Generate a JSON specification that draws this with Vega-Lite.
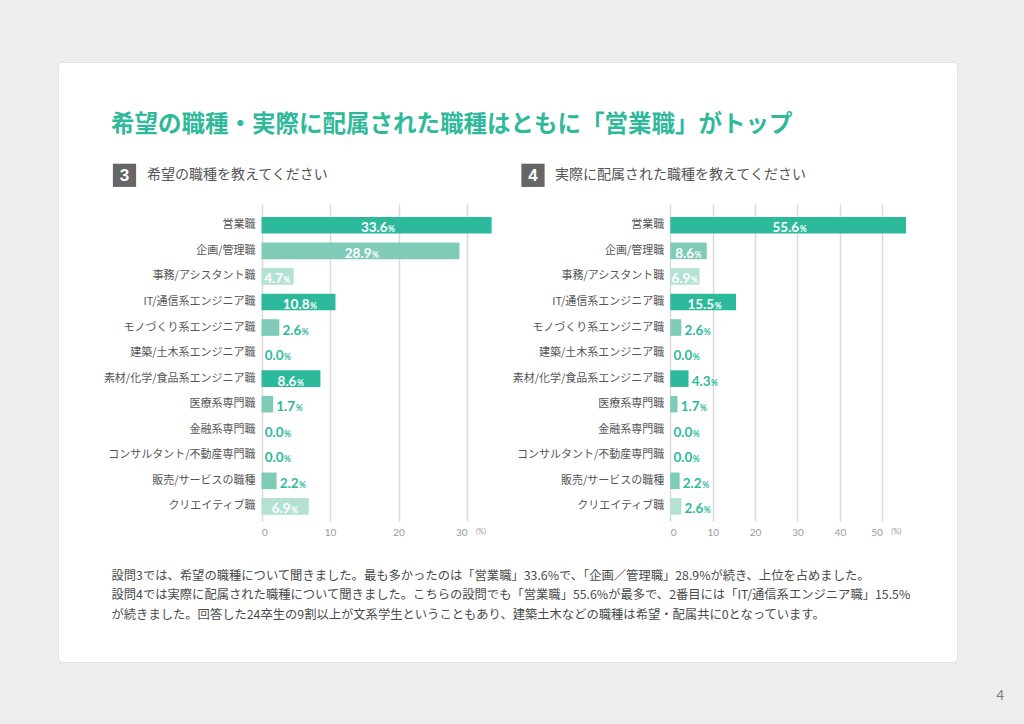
{
  "$schema": "https://vega.github.io/schema/vega-lite/v6.json",
  "width": 899,
  "height": 600,
  "autosize": "none",
  "padding": {"left": 58, "top": 62, "right": 67, "bottom": 62},
  "background": "#ededed",
  "config": {
    "view": {"fill": "white", "stroke": "#e2e2e2", "cornerRadius": 4},
    "font": "Noto Sans CJK JP"
  },
  "title": {
    "text": "希望の職種・実際に配属された職種はともに「営業職」がトップ",
    "anchor": "start", "frame": "group", "orient": "top", "offset": 0,
    "dx": 53, "dy": 86, "baseline": "middle",
    "font": "Noto Sans CJK JP", "fontSize": 23.5, "fontWeight": "bold", "color": "#2fb99b"
  },
  "data": {
    "values": [
      {"cat": "営業職", "hope": 33.6, "actual": 55.6},
      {"cat": "企画/管理職", "hope": 28.9, "actual": 8.6},
      {"cat": "事務/アシスタント職", "hope": 4.7, "actual": 6.9},
      {"cat": "IT/通信系エンジニア職", "hope": 10.8, "actual": 15.5},
      {"cat": "モノづくり系エンジニア職", "hope": 2.6, "actual": 2.6},
      {"cat": "建築/土木系エンジニア職", "hope": 0.0, "actual": 0.0},
      {"cat": "素材/化学/食品系エンジニア職", "hope": 8.6, "actual": 4.3},
      {"cat": "医療系専門職", "hope": 1.7, "actual": 1.7},
      {"cat": "金融系専門職", "hope": 0.0, "actual": 0.0},
      {"cat": "コンサルタント/不動産専門職", "hope": 0.0, "actual": 0.0},
      {"cat": "販売/サービスの職種", "hope": 2.2, "actual": 2.2},
      {"cat": "クリエイティブ職", "hope": 6.9, "actual": 2.6}
    ]
  },
  "resolve": {"scale": {"x": "independent", "y": "independent"}, "axis": {"x": "independent", "y": "independent"}},
  "layer": [
    {
      "mark": {"type": "bar"},
      "encoding": {
        "y": {"field": "cat", "type": "nominal",
          "scale": {"type": "band", "domain": ["営業職","企画/管理職","事務/アシスタント職","IT/通信系エンジニア職","モノづくり系エンジニア職","建築/土木系エンジニア職","素材/化学/食品系エンジニア職","医療系専門職","金融系専門職","コンサルタント/不動産専門職","販売/サービスの職種","クリエイティブ職"], "range": [141, 458], "paddingInner": 0.35, "paddingOuter": 0.378, "align": 0.725},
          "axis": {"orient": "left", "offset": -203.5, "domain": false, "ticks": false, "tickSize": 0, "labelPadding": 6.5, "labelFont": "Noto Sans CJK JP", "labelFontSize": 11, "labelColor": "#555555", "labelLimit": 260, "title": null, "grid": false}},
        "x": {"field": "hope", "type": "quantitative",
          "scale": {"domain": [0, 30], "range": [203.5, 409]},
          "axis": {"orient": "bottom", "offset": -142, "values": [0, 10, 20, 30], "grid": true, "gridColor": "#dadada", "gridWidth": 1.5, "domain": false, "ticks": false, "tickSize": 0, "labelPadding": 7, "labelFont": "Lato", "labelFontSize": 10, "labelColor": "#9a9a9a",
            "title": ["設問3では、希望の職種について聞きました。最も多かったのは「営業職」33.6%で、「企画／管理職」28.9%が続き、上位を占めました。", "設問4では実際に配属された職種について聞きました。こちらの設問でも「営業職」55.6%が最多で、2番目には「IT/通信系エンジニア職」15.5%", "が続きました。回答した24卒生の9割以上が文系学生ということもあり、建築土木などの職種は希望・配属共に0となっています。"],
            "titleX": 53, "titleY": 49, "titleAlign": "left", "titleBaseline": "top", "titleAngle": 0, "titleFont": "Noto Sans CJK JP", "titleFontSize": 12.3, "titleFontWeight": "normal", "titleColor": "#4a4a4a", "titleLineHeight": 19.5}},
        "color": {"field": "cat", "type": "nominal",
          "scale": {"domain": ["営業職","企画/管理職","事務/アシスタント職","IT/通信系エンジニア職","モノづくり系エンジニア職","建築/土木系エンジニア職","素材/化学/食品系エンジニア職","医療系専門職","金融系専門職","コンサルタント/不動産専門職","販売/サービスの職種","クリエイティブ職"], "range": ["#2dba9c","#7fcbb8","#b3e2d4","#2dba9c","#7fcbb8","#7fcbb8","#2dba9c","#7fcbb8","#7fcbb8","#7fcbb8","#7fcbb8","#b3e2d4"]},
          "legend": null}
      }
    },
    {
      "transform": [{"filter": "datum.hope >= 10"}],
      "mark": {"type": "text", "align": "right", "baseline": "alphabetic", "dx": 11, "dy": 7, "font": "Lato", "fontSize": 13.5, "fontWeight": "bold", "color": "white"},
      "encoding": {
        "x": {"field": "hope", "type": "quantitative", "scale": {"domain": [0, 60], "range": [203.5, 409]}, "axis": null},
        "y": {"field": "cat", "type": "nominal", "scale": {"type": "band", "domain": ["営業職","企画/管理職","事務/アシスタント職","IT/通信系エンジニア職","モノづくり系エンジニア職","建築/土木系エンジニア職","素材/化学/食品系エンジニア職","医療系専門職","金融系専門職","コンサルタント/不動産専門職","販売/サービスの職種","クリエイティブ職"], "range": [141, 458], "paddingInner": 0.35, "paddingOuter": 0.378, "align": 0.725}, "axis": null},
        "text": {"field": "hope", "type": "quantitative", "format": ".1f"}
      }
    },
    {
      "transform": [{"filter": "datum.hope >= 10"}],
      "mark": {"type": "text", "align": "left", "baseline": "alphabetic", "dx": 11.5, "dy": 7, "font": "Lato", "fontSize": 8.5, "fontWeight": "bold", "color": "white"},
      "encoding": {
        "x": {"field": "hope", "type": "quantitative", "scale": {"domain": [0, 60], "range": [203.5, 409]}, "axis": null},
        "y": {"field": "cat", "type": "nominal", "scale": {"type": "band", "domain": ["営業職","企画/管理職","事務/アシスタント職","IT/通信系エンジニア職","モノづくり系エンジニア職","建築/土木系エンジニア職","素材/化学/食品系エンジニア職","医療系専門職","金融系専門職","コンサルタント/不動産専門職","販売/サービスの職種","クリエイティブ職"], "range": [141, 458], "paddingInner": 0.35, "paddingOuter": 0.378, "align": 0.725}, "axis": null},
        "text": {"value": "%"}
      }
    },
    {
      "transform": [{"filter": "datum.hope >= 4 && datum.hope < 10"}],
      "mark": {"type": "text", "align": "right", "baseline": "alphabetic", "dx": 5.5, "dy": 7, "font": "Lato", "fontSize": 13.5, "fontWeight": "bold", "color": "white"},
      "encoding": {
        "x": {"field": "hope", "type": "quantitative", "scale": {"domain": [0, 60], "range": [203.5, 409]}, "axis": null},
        "y": {"field": "cat", "type": "nominal", "scale": {"type": "band", "domain": ["営業職","企画/管理職","事務/アシスタント職","IT/通信系エンジニア職","モノづくり系エンジニア職","建築/土木系エンジニア職","素材/化学/食品系エンジニア職","医療系専門職","金融系専門職","コンサルタント/不動産専門職","販売/サービスの職種","クリエイティブ職"], "range": [141, 458], "paddingInner": 0.35, "paddingOuter": 0.378, "align": 0.725}, "axis": null},
        "text": {"field": "hope", "type": "quantitative", "format": ".1f"}
      }
    },
    {
      "transform": [{"filter": "datum.hope >= 4 && datum.hope < 10"}],
      "mark": {"type": "text", "align": "left", "baseline": "alphabetic", "dx": 6, "dy": 7, "font": "Lato", "fontSize": 8.5, "fontWeight": "bold", "color": "white"},
      "encoding": {
        "x": {"field": "hope", "type": "quantitative", "scale": {"domain": [0, 60], "range": [203.5, 409]}, "axis": null},
        "y": {"field": "cat", "type": "nominal", "scale": {"type": "band", "domain": ["営業職","企画/管理職","事務/アシスタント職","IT/通信系エンジニア職","モノづくり系エンジニア職","建築/土木系エンジニア職","素材/化学/食品系エンジニア職","医療系専門職","金融系専門職","コンサルタント/不動産専門職","販売/サービスの職種","クリエイティブ職"], "range": [141, 458], "paddingInner": 0.35, "paddingOuter": 0.378, "align": 0.725}, "axis": null},
        "text": {"value": "%"}
      }
    },
    {
      "transform": [{"filter": "datum.hope < 4"}],
      "mark": {"type": "text", "align": "right", "baseline": "alphabetic", "dx": 22, "dy": 7, "font": "Lato", "fontSize": 13.5, "fontWeight": "bold", "color": "#2dba9c"},
      "encoding": {
        "x": {"field": "hope", "type": "quantitative", "scale": {"domain": [0, 30], "range": [203.5, 409]}, "axis": null},
        "y": {"field": "cat", "type": "nominal", "scale": {"type": "band", "domain": ["営業職","企画/管理職","事務/アシスタント職","IT/通信系エンジニア職","モノづくり系エンジニア職","建築/土木系エンジニア職","素材/化学/食品系エンジニア職","医療系専門職","金融系専門職","コンサルタント/不動産専門職","販売/サービスの職種","クリエイティブ職"], "range": [141, 458], "paddingInner": 0.35, "paddingOuter": 0.378, "align": 0.725}, "axis": null},
        "text": {"field": "hope", "type": "quantitative", "format": ".1f"}
      }
    },
    {
      "transform": [{"filter": "datum.hope < 4"}],
      "mark": {"type": "text", "align": "left", "baseline": "alphabetic", "dx": 22.5, "dy": 7, "font": "Lato", "fontSize": 8.5, "fontWeight": "bold", "color": "#2dba9c"},
      "encoding": {
        "x": {"field": "hope", "type": "quantitative", "scale": {"domain": [0, 30], "range": [203.5, 409]}, "axis": null},
        "y": {"field": "cat", "type": "nominal", "scale": {"type": "band", "domain": ["営業職","企画/管理職","事務/アシスタント職","IT/通信系エンジニア職","モノづくり系エンジニア職","建築/土木系エンジニア職","素材/化学/食品系エンジニア職","医療系専門職","金融系専門職","コンサルタント/不動産専門職","販売/サービスの職種","クリエイティブ職"], "range": [141, 458], "paddingInner": 0.35, "paddingOuter": 0.378, "align": 0.725}, "axis": null},
        "text": {"value": "%"}
      }
    },
    {
      "mark": {"type": "bar"},
      "encoding": {
        "y": {"field": "cat", "type": "nominal",
          "scale": {"type": "band", "domain": ["営業職","企画/管理職","事務/アシスタント職","IT/通信系エンジニア職","モノづくり系エンジニア職","建築/土木系エンジニア職","素材/化学/食品系エンジニア職","医療系専門職","金融系専門職","コンサルタント/不動産専門職","販売/サービスの職種","クリエイティブ職"], "range": [141, 458], "paddingInner": 0.35, "paddingOuter": 0.378, "align": 0.725},
          "axis": {"orient": "left", "offset": -612.3, "domain": false, "ticks": false, "tickSize": 0, "labelPadding": 6.5, "labelFont": "Noto Sans CJK JP", "labelFontSize": 11, "labelColor": "#555555", "labelLimit": 260, "title": null, "grid": false}},
        "x": {"field": "actual", "type": "quantitative",
          "scale": {"domain": [0, 50], "range": [612.3, 824.3]},
          "axis": {"orient": "bottom", "offset": -142, "values": [0, 10, 20, 30, 40, 50], "grid": true, "gridColor": "#dadada", "gridWidth": 1.5, "domain": false, "ticks": false, "tickSize": 0, "labelPadding": 7, "labelFont": "Lato", "labelFontSize": 10, "labelColor": "#9a9a9a", "title": null}},
        "color": {"field": "cat", "type": "nominal",
          "scale": {"domain": ["営業職","企画/管理職","事務/アシスタント職","IT/通信系エンジニア職","モノづくり系エンジニア職","建築/土木系エンジニア職","素材/化学/食品系エンジニア職","医療系専門職","金融系専門職","コンサルタント/不動産専門職","販売/サービスの職種","クリエイティブ職"], "range": ["#2dba9c","#7fcbb8","#b3e2d4","#2dba9c","#7fcbb8","#7fcbb8","#2dba9c","#7fcbb8","#7fcbb8","#7fcbb8","#7fcbb8","#b3e2d4"]},
          "legend": null}
      }
    },
    {
      "transform": [{"filter": "datum.actual >= 10"}],
      "mark": {"type": "text", "align": "right", "baseline": "alphabetic", "dx": 11, "dy": 7, "font": "Lato", "fontSize": 13.5, "fontWeight": "bold", "color": "white"},
      "encoding": {
        "x": {"field": "actual", "type": "quantitative", "scale": {"domain": [0, 100], "range": [612.3, 824.3]}, "axis": null},
        "y": {"field": "cat", "type": "nominal", "scale": {"type": "band", "domain": ["営業職","企画/管理職","事務/アシスタント職","IT/通信系エンジニア職","モノづくり系エンジニア職","建築/土木系エンジニア職","素材/化学/食品系エンジニア職","医療系専門職","金融系専門職","コンサルタント/不動産専門職","販売/サービスの職種","クリエイティブ職"], "range": [141, 458], "paddingInner": 0.35, "paddingOuter": 0.378, "align": 0.725}, "axis": null},
        "text": {"field": "actual", "type": "quantitative", "format": ".1f"}
      }
    },
    {
      "transform": [{"filter": "datum.actual >= 10"}],
      "mark": {"type": "text", "align": "left", "baseline": "alphabetic", "dx": 11.5, "dy": 7, "font": "Lato", "fontSize": 8.5, "fontWeight": "bold", "color": "white"},
      "encoding": {
        "x": {"field": "actual", "type": "quantitative", "scale": {"domain": [0, 100], "range": [612.3, 824.3]}, "axis": null},
        "y": {"field": "cat", "type": "nominal", "scale": {"type": "band", "domain": ["営業職","企画/管理職","事務/アシスタント職","IT/通信系エンジニア職","モノづくり系エンジニア職","建築/土木系エンジニア職","素材/化学/食品系エンジニア職","医療系専門職","金融系専門職","コンサルタント/不動産専門職","販売/サービスの職種","クリエイティブ職"], "range": [141, 458], "paddingInner": 0.35, "paddingOuter": 0.378, "align": 0.725}, "axis": null},
        "text": {"value": "%"}
      }
    },
    {
      "transform": [{"filter": "datum.actual >= 5 && datum.actual < 10"}],
      "mark": {"type": "text", "align": "right", "baseline": "alphabetic", "dx": 5.5, "dy": 7, "font": "Lato", "fontSize": 13.5, "fontWeight": "bold", "color": "white"},
      "encoding": {
        "x": {"field": "actual", "type": "quantitative", "scale": {"domain": [0, 100], "range": [612.3, 824.3]}, "axis": null},
        "y": {"field": "cat", "type": "nominal", "scale": {"type": "band", "domain": ["営業職","企画/管理職","事務/アシスタント職","IT/通信系エンジニア職","モノづくり系エンジニア職","建築/土木系エンジニア職","素材/化学/食品系エンジニア職","医療系専門職","金融系専門職","コンサルタント/不動産専門職","販売/サービスの職種","クリエイティブ職"], "range": [141, 458], "paddingInner": 0.35, "paddingOuter": 0.378, "align": 0.725}, "axis": null},
        "text": {"field": "actual", "type": "quantitative", "format": ".1f"}
      }
    },
    {
      "transform": [{"filter": "datum.actual >= 5 && datum.actual < 10"}],
      "mark": {"type": "text", "align": "left", "baseline": "alphabetic", "dx": 6, "dy": 7, "font": "Lato", "fontSize": 8.5, "fontWeight": "bold", "color": "white"},
      "encoding": {
        "x": {"field": "actual", "type": "quantitative", "scale": {"domain": [0, 100], "range": [612.3, 824.3]}, "axis": null},
        "y": {"field": "cat", "type": "nominal", "scale": {"type": "band", "domain": ["営業職","企画/管理職","事務/アシスタント職","IT/通信系エンジニア職","モノづくり系エンジニア職","建築/土木系エンジニア職","素材/化学/食品系エンジニア職","医療系専門職","金融系専門職","コンサルタント/不動産専門職","販売/サービスの職種","クリエイティブ職"], "range": [141, 458], "paddingInner": 0.35, "paddingOuter": 0.378, "align": 0.725}, "axis": null},
        "text": {"value": "%"}
      }
    },
    {
      "transform": [{"filter": "datum.actual < 5"}],
      "mark": {"type": "text", "align": "right", "baseline": "alphabetic", "dx": 22, "dy": 7, "font": "Lato", "fontSize": 13.5, "fontWeight": "bold", "color": "#2dba9c"},
      "encoding": {
        "x": {"field": "actual", "type": "quantitative", "scale": {"domain": [0, 50], "range": [612.3, 824.3]}, "axis": null},
        "y": {"field": "cat", "type": "nominal", "scale": {"type": "band", "domain": ["営業職","企画/管理職","事務/アシスタント職","IT/通信系エンジニア職","モノづくり系エンジニア職","建築/土木系エンジニア職","素材/化学/食品系エンジニア職","医療系専門職","金融系専門職","コンサルタント/不動産専門職","販売/サービスの職種","クリエイティブ職"], "range": [141, 458], "paddingInner": 0.35, "paddingOuter": 0.378, "align": 0.725}, "axis": null},
        "text": {"field": "actual", "type": "quantitative", "format": ".1f"}
      }
    },
    {
      "transform": [{"filter": "datum.actual < 5"}],
      "mark": {"type": "text", "align": "left", "baseline": "alphabetic", "dx": 22.5, "dy": 7, "font": "Lato", "fontSize": 8.5, "fontWeight": "bold", "color": "#2dba9c"},
      "encoding": {
        "x": {"field": "actual", "type": "quantitative", "scale": {"domain": [0, 50], "range": [612.3, 824.3]}, "axis": null},
        "y": {"field": "cat", "type": "nominal", "scale": {"type": "band", "domain": ["営業職","企画/管理職","事務/アシスタント職","IT/通信系エンジニア職","モノづくり系エンジニア職","建築/土木系エンジニア職","素材/化学/食品系エンジニア職","医療系専門職","金融系専門職","コンサルタント/不動産専門職","販売/サービスの職種","クリエイティブ職"], "range": [141, 458], "paddingInner": 0.35, "paddingOuter": 0.378, "align": 0.725}, "axis": null},
        "text": {"value": "%"}
      }
    },
    {
      "data": {"values": [{"q": "3", "h": "希望の職種を教えてください"}]},
      "mark": {"type": "point", "shape": "square", "filled": true, "size": 540, "color": "#666666", "opacity": 1},
      "encoding": {
        "x": {"datum": -20.0, "type": "quantitative", "scale": {"domain": [0, 30], "range": [203.5, 409]}, "axis": null},
        "y": {"datum": "営業職", "type": "nominal", "scale": {"type": "band", "domain": ["営業職","企画/管理職","事務/アシスタント職","IT/通信系エンジニア職","モノづくり系エンジニア職","建築/土木系エンジニア職","素材/化学/食品系エンジニア職","医療系専門職","金融系専門職","コンサルタント/不動産専門職","販売/サービスの職種","クリエイティブ職"], "range": [91, 408], "paddingInner": 0.35, "paddingOuter": 0.378, "align": 0.725}, "axis": null}
      }
    },
    {
      "data": {"values": [{"q": "3", "h": "希望の職種を教えてください"}]},
      "mark": {"type": "text", "align": "center", "baseline": "middle", "dy": 1, "font": "Liberation Sans", "fontSize": 17, "fontWeight": "bold", "color": "white"},
      "encoding": {
        "x": {"datum": -20.0, "type": "quantitative", "scale": {"domain": [0, 30], "range": [203.5, 409]}, "axis": null},
        "y": {"datum": "営業職", "type": "nominal", "scale": {"type": "band", "domain": ["営業職","企画/管理職","事務/アシスタント職","IT/通信系エンジニア職","モノづくり系エンジニア職","建築/土木系エンジニア職","素材/化学/食品系エンジニア職","医療系専門職","金融系専門職","コンサルタント/不動産専門職","販売/サービスの職種","クリエイティブ職"], "range": [91, 408], "paddingInner": 0.35, "paddingOuter": 0.378, "align": 0.725}, "axis": null},
        "text": {"field": "q", "type": "nominal"}
      }
    },
    {
      "data": {"values": [{"q": "3", "h": "希望の職種を教えてください"}]},
      "mark": {"type": "text", "align": "left", "baseline": "middle", "font": "Noto Sans CJK JP", "fontSize": 14, "color": "#555555"},
      "encoding": {
        "x": {"datum": -16.72, "type": "quantitative", "scale": {"domain": [0, 30], "range": [203.5, 409]}, "axis": null},
        "y": {"datum": "営業職", "type": "nominal", "scale": {"type": "band", "domain": ["営業職","企画/管理職","事務/アシスタント職","IT/通信系エンジニア職","モノづくり系エンジニア職","建築/土木系エンジニア職","素材/化学/食品系エンジニア職","医療系専門職","金融系専門職","コンサルタント/不動産専門職","販売/サービスの職種","クリエイティブ職"], "range": [91, 408], "paddingInner": 0.35, "paddingOuter": 0.378, "align": 0.725}, "axis": null},
        "text": {"field": "h", "type": "nominal"}
      }
    },
    {
      "data": {"values": [{"q": "4", "h": "実際に配属された職種を教えてください"}]},
      "mark": {"type": "point", "shape": "square", "filled": true, "size": 540, "color": "#666666", "opacity": 1},
      "encoding": {
        "x": {"datum": -32.38, "type": "quantitative", "scale": {"domain": [0, 50], "range": [612.3, 824.3]}, "axis": null},
        "y": {"datum": "営業職", "type": "nominal", "scale": {"type": "band", "domain": ["営業職","企画/管理職","事務/アシスタント職","IT/通信系エンジニア職","モノづくり系エンジニア職","建築/土木系エンジニア職","素材/化学/食品系エンジニア職","医療系専門職","金融系専門職","コンサルタント/不動産専門職","販売/サービスの職種","クリエイティブ職"], "range": [91, 408], "paddingInner": 0.35, "paddingOuter": 0.378, "align": 0.725}, "axis": null}
      }
    },
    {
      "data": {"values": [{"q": "4", "h": "実際に配属された職種を教えてください"}]},
      "mark": {"type": "text", "align": "center", "baseline": "middle", "dy": 1, "font": "Liberation Sans", "fontSize": 17, "fontWeight": "bold", "color": "white"},
      "encoding": {
        "x": {"datum": -32.38, "type": "quantitative", "scale": {"domain": [0, 50], "range": [612.3, 824.3]}, "axis": null},
        "y": {"datum": "営業職", "type": "nominal", "scale": {"type": "band", "domain": ["営業職","企画/管理職","事務/アシスタント職","IT/通信系エンジニア職","モノづくり系エンジニア職","建築/土木系エンジニア職","素材/化学/食品系エンジニア職","医療系専門職","金融系専門職","コンサルタント/不動産専門職","販売/サービスの職種","クリエイティブ職"], "range": [91, 408], "paddingInner": 0.35, "paddingOuter": 0.378, "align": 0.725}, "axis": null},
        "text": {"field": "q", "type": "nominal"}
      }
    },
    {
      "data": {"values": [{"q": "4", "h": "実際に配属された職種を教えてください"}]},
      "mark": {"type": "text", "align": "left", "baseline": "middle", "font": "Noto Sans CJK JP", "fontSize": 14, "color": "#555555"},
      "encoding": {
        "x": {"datum": -27.19, "type": "quantitative", "scale": {"domain": [0, 50], "range": [612.3, 824.3]}, "axis": null},
        "y": {"datum": "営業職", "type": "nominal", "scale": {"type": "band", "domain": ["営業職","企画/管理職","事務/アシスタント職","IT/通信系エンジニア職","モノづくり系エンジニア職","建築/土木系エンジニア職","素材/化学/食品系エンジニア職","医療系専門職","金融系専門職","コンサルタント/不動産専門職","販売/サービスの職種","クリエイティブ職"], "range": [91, 408], "paddingInner": 0.35, "paddingOuter": 0.378, "align": 0.725}, "axis": null},
        "text": {"field": "h", "type": "nominal"}
      }
    },
    {
      "data": {"values": [{"t": "(%)"}]},
      "mark": {"type": "text", "align": "left", "baseline": "middle", "dx": 9, "dy": 26, "font": "Lato", "fontSize": 7.5, "color": "#9a9a9a"},
      "encoding": {
        "x": {"datum": 30, "type": "quantitative", "scale": {"domain": [0, 30], "range": [203.5, 409]}, "axis": null},
        "y": {"datum": "クリエイティブ職", "type": "nominal", "scale": {"type": "band", "domain": ["営業職","企画/管理職","事務/アシスタント職","IT/通信系エンジニア職","モノづくり系エンジニア職","建築/土木系エンジニア職","素材/化学/食品系エンジニア職","医療系専門職","金融系専門職","コンサルタント/不動産専門職","販売/サービスの職種","クリエイティブ職"], "range": [141, 458], "paddingInner": 0.35, "paddingOuter": 0.378, "align": 0.725}, "axis": null},
        "text": {"field": "t", "type": "nominal"}
      }
    },
    {
      "data": {"values": [{"t": "(%)"}]},
      "mark": {"type": "text", "align": "left", "baseline": "middle", "dx": 9, "dy": 26, "font": "Lato", "fontSize": 7.5, "color": "#9a9a9a"},
      "encoding": {
        "x": {"datum": 50, "type": "quantitative", "scale": {"domain": [0, 50], "range": [612.3, 824.3]}, "axis": null},
        "y": {"datum": "クリエイティブ職", "type": "nominal", "scale": {"type": "band", "domain": ["営業職","企画/管理職","事務/アシスタント職","IT/通信系エンジニア職","モノづくり系エンジニア職","建築/土木系エンジニア職","素材/化学/食品系エンジニア職","医療系専門職","金融系専門職","コンサルタント/不動産専門職","販売/サービスの職種","クリエイティブ職"], "range": [141, 458], "paddingInner": 0.35, "paddingOuter": 0.378, "align": 0.725}, "axis": null},
        "text": {"field": "t", "type": "nominal"}
      }
    },
    {
      "data": {"values": [{"t": "4"}]},
      "mark": {"type": "text", "align": "center", "baseline": "middle", "dy": 190, "font": "Lato", "fontSize": 13, "color": "#777777"},
      "encoding": {
        "x": {"datum": 77.8, "type": "quantitative", "scale": {"domain": [0, 50], "range": [612.3, 824.3]}, "axis": null},
        "y": {"datum": "クリエイティブ職", "type": "nominal", "scale": {"type": "band", "domain": ["営業職","企画/管理職","事務/アシスタント職","IT/通信系エンジニア職","モノづくり系エンジニア職","建築/土木系エンジニア職","素材/化学/食品系エンジニア職","医療系専門職","金融系専門職","コンサルタント/不動産専門職","販売/サービスの職種","クリエイティブ職"], "range": [141, 458], "paddingInner": 0.35, "paddingOuter": 0.378, "align": 0.725}, "axis": null},
        "text": {"field": "t", "type": "nominal"}
      }
    }
  ]
}
